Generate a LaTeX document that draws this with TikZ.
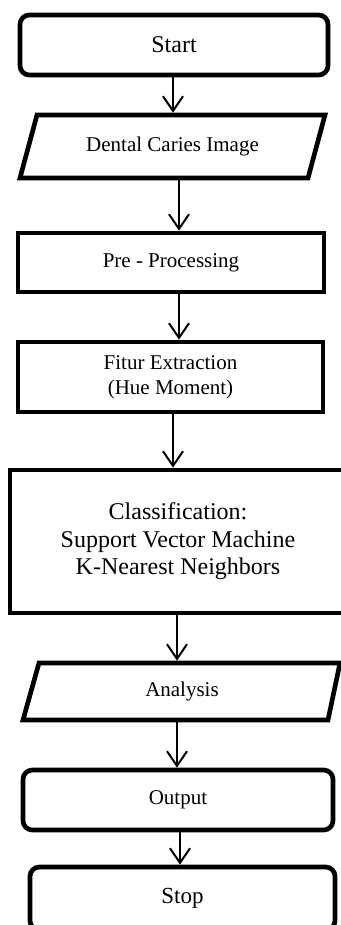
\documentclass[tikz,border=0pt]{standalone}
\usepackage{fontspec}
\setmainfont{Liberation Serif}
\usetikzlibrary{arrows.meta}
\begin{document}
\begin{tikzpicture}[x=0.75pt,y=-0.75pt,
  box/.style={draw,line width=3.5pt,inner sep=0pt,align=center},
  rbox/.style={box,rounded corners=7pt},
  para/.style={line width=3.5pt},
  ghost/.style={inner sep=0pt,outer sep=1.75pt,align=center},
  arr/.style={line width=1.5pt,-{Straight Barb[length=11pt,width=15pt,line width=1.5pt]}},
  txtA/.style={font=\fontsize{15.75}{18.75}\selectfont},
  txtB/.style={font=\fontsize{18}{20.6}\selectfont}]
\useasboundingbox (0,0) rectangle (341,925);
\clip (0,0) rectangle (341,925);
% column coordinates for the arrows
\coordinate (c173) at (173,0);
\coordinate (c177) at (177,0);
\coordinate (c179) at (179,0);
\coordinate (c180) at (180,0);
% nodes
\node[rbox,txtB,minimum width=308*0.75pt,minimum height=60*0.75pt] (start) at (174,45) {Start};
\draw[para] (37,115) -- (325,115) -- (308,178) -- (20,178) -- cycle;
\node[ghost,txtA,minimum width=288*0.75pt,minimum height=63*0.75pt] (dental) at (172.5,146.5) {Dental Caries Image};
\node[box,txtA,minimum width=306*0.75pt,minimum height=59*0.75pt] (pre) at (171,262.5) {Pre - Processing};
\node[box,txtA,minimum width=305*0.75pt,minimum height=70*0.75pt] (fitur) at (170.5,377) {Fitur Extraction\\(Hue Moment)};
\node[box,txtB,minimum width=336*0.75pt,minimum height=143*0.75pt] (class) at (178,541.5) {Classification:\\Support Vector Machine\\K-Nearest Neighbors};
\draw[para] (39,663) -- (340,663) -- (328,720) -- (23,720) -- cycle;
\node[ghost,txtA,minimum width=290*0.75pt,minimum height=57*0.75pt] (analysis) at (182,691.5) {Analysis};
\node[rbox,txtA,minimum width=310*0.75pt,minimum height=60*0.75pt] (output) at (178,800) {Output};
\node[rbox,txtB,font=\fontsize{17.25}{20}\selectfont,minimum width=305*0.75pt,minimum height=63*0.75pt] (stop) at (182.5,898.5) {Stop};
% connectors
\draw[arr] (start.south -| c173) -- (dental.north -| c173);
\draw[arr] (dental.south -| c179) -- (pre.north -| c179);
\draw[arr] (pre.south -| c179) -- (fitur.north -| c179);
\draw[arr] (fitur.south -| c173) -- (class.north -| c173);
\draw[arr] (class.south -| c177) -- (analysis.north -| c177);
\draw[arr] (analysis.south -| c177) -- (output.north -| c177);
\draw[arr] (output.south -| c180) -- (stop.north -| c180);
\end{tikzpicture}
\end{document}
